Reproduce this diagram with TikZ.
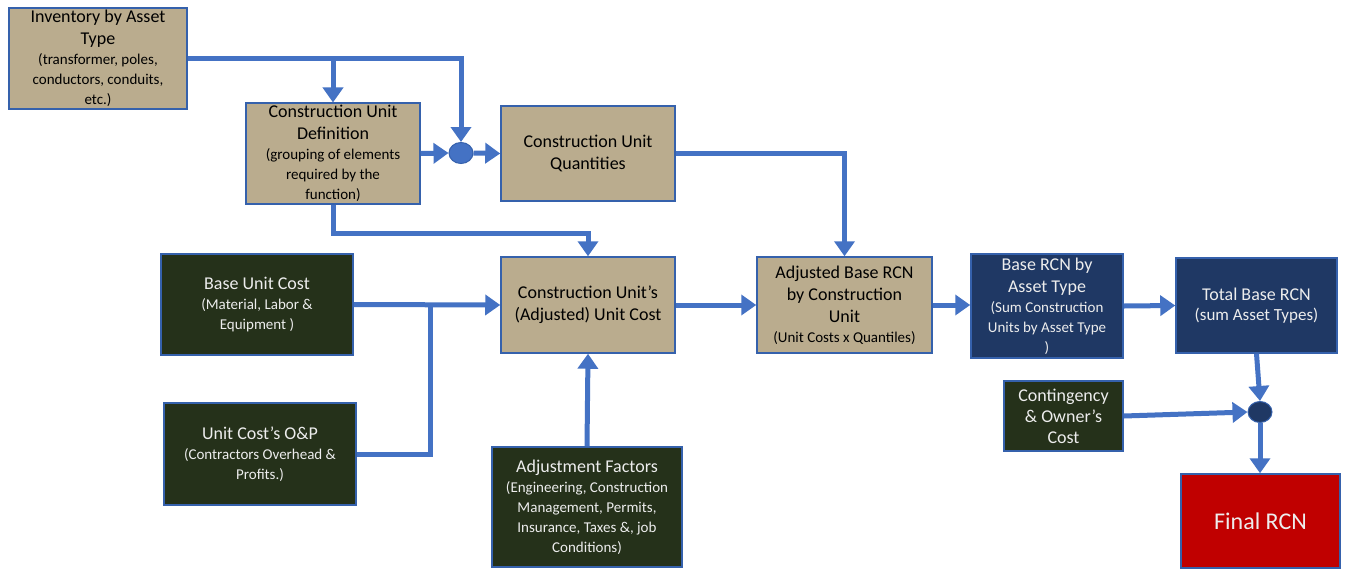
\documentclass[tikz,border=0pt]{standalone}
\usepackage{fontspec}
\setmainfont{Carlito}
\usetikzlibrary{arrows.meta,shapes.geometric}
\definecolor{tanfill}{HTML}{BAAC8E}
\definecolor{greenfill}{HTML}{25311A}
\definecolor{navyfill}{HTML}{1F3864}
\definecolor{redfill}{HTML}{C00000}
\definecolor{arrowblue}{HTML}{4472C4}
\definecolor{edgeblue}{HTML}{3561AC}
\definecolor{lighttext}{HTML}{EDEDED}
\newcommand{\subf}{\fontsize{15}{20}\selectfont}
\tikzset{
  box/.style={draw=edgeblue, line width=1.5pt, align=center, inner sep=2pt, font=\fontsize{18}{20}\selectfont},
  tanbox/.style={box, fill=tanfill, text=black},
  greenbox/.style={box, fill=greenfill, text=lighttext},
  navybox/.style={box, fill=navyfill, text=lighttext},
  redbox/.style={box, fill=redfill, text=lighttext},
  conn/.style={draw=arrowblue, line width=5pt},
  arr/.style={conn, -{Triangle[length=15pt,width=20pt]}},
  joint/.style={ellipse, minimum width=24pt, minimum height=21pt, inner sep=0pt, draw=edgeblue, line width=1pt},
}
\begin{document}
\begin{tikzpicture}[x=1pt,y=-1pt]
\useasboundingbox (0,0) rectangle (1346,571);
\fill[white] (0,0) rectangle (1346,571);
% boxes
\node[tanbox, minimum width=178pt, minimum height=101pt] (inv) at (98,58.5)
  {Inventory by Asset\\[2pt] Type\\ \subf (transformer, poles,\\ \subf conductors, conduits,\\ \subf etc.)};
\node[tanbox, minimum width=174pt, minimum height=95pt] (cud) at (333,153.5)
  {Construction Unit\\[2pt] Definition\\ \subf (grouping of elements\\ \subf required by the\\ \subf function)};
\node[tanbox, minimum width=174pt, minimum height=95pt] (cuq) at (588,153.5)
  {Construction Unit\\[2pt] Quantities};
\node[joint, fill=arrowblue] (c1) at (461,153) {};
\node[greenbox, minimum width=192pt, minimum height=101pt] (buc) at (257,304.5)
  {Base Unit Cost\\ \subf (Material, Labor \&\\ \subf Equipment )};
\node[tanbox, minimum width=174pt, minimum height=96pt] (cua) at (588,305)
  {Construction Unit’s\\[2pt] (Adjusted) Unit Cost};
\node[tanbox, minimum width=175pt, minimum height=96pt] (abr) at (844.5,305)
  {Adjusted Base RCN\\[2pt] by Construction\\[2pt] Unit\\ \subf (Unit Costs x Quantiles)};
\node[navybox, minimum width=152pt, minimum height=104pt] (brat) at (1047,306)
  {Base RCN by\\[2pt] Asset Type\\ \subf (Sum Construction\\ \subf Units by Asset Type\\ \subf )};
\node[navybox, minimum width=161pt, minimum height=95pt] (tot) at (1256.5,305.5)
  {Total Base RCN\\ \fontsize{17}{20}\selectfont (sum Asset Types)};
\node[greenbox, minimum width=192pt, minimum height=102pt] (op) at (260,454)
  {Unit Cost’s O\&P\\ \subf (Contractors Overhead \&\\ \subf Profits.)};
\node[greenbox, minimum width=190pt, minimum height=120pt] (adj) at (587,507)
  {Adjustment Factors\\ \subf (Engineering, Construction\\ \subf Management, Permits,\\ \subf Insurance, Taxes \&, job\\ \subf Conditions)};
\node[greenbox, minimum width=119pt, minimum height=70pt] (cont) at (1063.5,416)
  {Contingency\\[1pt] \& Owner’s\\[1pt] Cost};
\node[joint, fill=navyfill] (c2) at (1260,412) {};
\node[redbox, minimum width=159pt, minimum height=94pt] (fin) at (1260.5,521)
  {\fontsize{24}{26}\selectfont Final RCN};
% connectors
\draw[arr] (inv.east) -| (c1.north);
\draw[arr] (cud.north |- inv.east) -- (cud.north);
\draw[arr] (cud.east) -- (c1.west);
\draw[arr] (c1.east) -- (cuq.west);
\draw[arr] (cuq.east) -| (abr.north);
\draw[arr] (cud.south) -- ++(0,29) -| (cua.north);
\draw[arr] (buc.east) -- (cua.west);
\coordinate (m1) at (430,305);
\draw[conn] (op.east) -| (m1);
\draw[arr] (adj.north) -- (cua.south);
\draw[arr] (cua.east) -- (abr.west);
\draw[arr] (abr.east) -- (abr.east -| brat.west);
\draw[arr] (brat.east) -- (tot.west);
\draw[arr] (tot.south) -- (c2.north);
\draw[arr] (cont.east) -- (c2.west);
\draw[arr] (c2.south) -- (c2.south |- fin.north);
\end{tikzpicture}
\end{document}
